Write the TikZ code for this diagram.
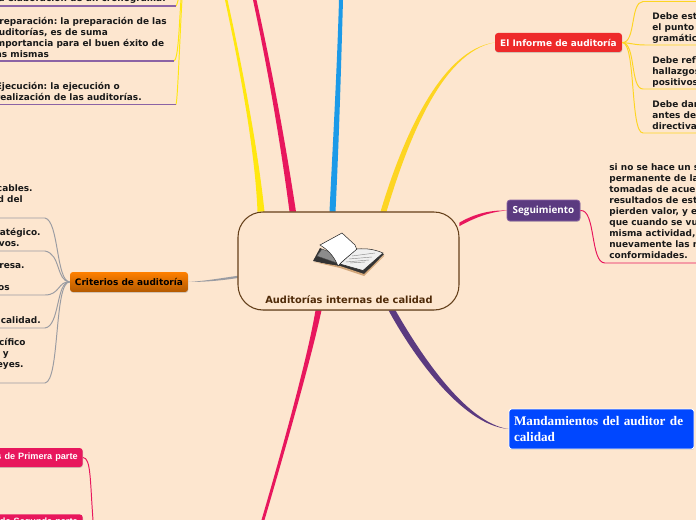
\documentclass[tikz,border=0pt]{standalone}
\usepackage{fontspec}
\setmainfont{DejaVu Sans}
\newfontfamily\tagfont{Open Sans}
\newfontfamily\pinkfont{Liberation Sans}
\newfontfamily\bluefont{Liberation Serif}
\usetikzlibrary{calc,shadows}
\definecolor{pagecream}{HTML}{FDE6CF}
\definecolor{rootedge}{HTML}{65401A}
\definecolor{roottext}{HTML}{4F2A08}
\definecolor{gold}{HTML}{FDD522}
\definecolor{sun}{HTML}{FFE70F}
\definecolor{crimson}{HTML}{E8175D}
\definecolor{skyblue}{HTML}{1B9AE8}
\definecolor{grape}{HTML}{5B3A80}
\definecolor{lilac}{HTML}{8B63A5}
\definecolor{slate}{HTML}{9A9CA2}
\definecolor{redtag}{HTML}{EE2A2A}
\definecolor{bluetag}{HTML}{0047FF}
\tikzset{
  softshadow/.style={drop shadow={shadow xshift=0.2pt,shadow yshift=-0.5pt,opacity=.35}},
  tagbox/.style={rounded corners=0.06cm,inner sep=0,softshadow,font=\bfseries\fontsize{5.1}{6.24}\selectfont},
  bodytext/.style={inner sep=0,align=left,font=\bfseries\fontsize{5.1}{6.24}\selectfont,text=black!90},
  gline/.style={draw=gold,line width=0.55pt},
  sline/.style={draw=sun,line width=0.55pt},
  pline/.style={draw=lilac,line width=0.6pt},
  cline/.style={draw=slate,line width=0.55pt},
  rline/.style={draw=crimson,line width=0.55pt}
}
\frenchspacing
\begin{document}
\begin{tikzpicture}[x=0.02cm,y=-0.02cm]
\path[use as bounding box,fill=pagecream] (0,0) rectangle (696,520);
\clip (0,0) rectangle (696,520);
\node[tagbox,fill=redtag,text=white,minimum width=2.54cm,minimum height=0.38cm] (informe) at (558.5,42.5) {El Informe de auditoría};
\node[tagbox,fill=grape,draw=lilac,line width=0.4pt,text=white,minimum width=1.46cm,minimum height=0.42cm,font=\tagfont\bfseries\fontsize{5.6}{7}\selectfont] (seguimiento) at (543.5,210.5) {Seguimiento};
\node[tagbox,top color=orange!100!yellow,bottom color=orange!70!black,minimum width=2.36cm,minimum height=0.4cm] (criterios) at (129,282) {Criterios de auditoría};
\node[tagbox,rounded corners=0.05cm,fill=bluetag,draw=white,line width=0.5pt,text=white,minimum width=3.7cm,minimum height=0.8cm,text width=3.5cm,align=left,font=\bluefont\bfseries\fontsize{7.5}{8.6}\selectfont,drop shadow={opacity=0}] (mandamientos) at (601.5,429) {Mandamientos del auditor de\\calidad};
\node[tagbox,anchor=east,fill=crimson,text=white,minimum height=0.38cm,text width=2.2cm,align=right,font=\pinkfont\bfseries\fontsize{5.2}{7}\selectfont] (primera) at (83,457.5) {s de Primera parte\hspace*{0.1cm}};
\node[tagbox,anchor=north east,fill=crimson,text=white,minimum height=0.3cm,text width=2.2cm,align=right,font=\pinkfont\bfseries\fontsize{5.2}{7}\selectfont] (segunda) at (83,514) {s de Segunda parte\hspace*{0.1cm}};
\node[fill=pagecream,inner sep=0,minimum width=4.42cm,minimum height=1.96cm] (root) at (348.5,261) {};
\fill[sun] ($(root.north)+(-91,0)$) .. controls (255,150) and (240,70) .. (225,0) -- (227.5,0) .. controls (243,70) and (258,150) .. ($(root.north)+(-84,0)$) -- cycle;
\fill[crimson] ($(root.north)+(-59,0)$) .. controls (280,140) and (268,70) .. (253,0) -- (256.5,0) .. controls (272,70) and (285,140) .. ($(root.north)+(-52.5,0)$) -- cycle;
\fill[skyblue] ($(root.north)+(-19,0)$) .. controls (333,140) and (337,70) .. (339,0) -- (343,0) .. controls (341,70) and (339,140) .. ($(root.north)+(-13,0)$) -- cycle;
\fill[gold] ($(root.north)+(32,0)$) .. controls (402,140) and (440,50) .. (informe.west) .. controls (442,52) and (408,140) .. ($(root.north)+(38,0)$) -- cycle;
\fill[crimson] ($(root.north east)+(0,11)$) .. controls (474,214) and (490,210) .. (seguimiento.west) .. controls (490,212) and (476,217) .. ($(root.north east)+(0,14.5)$) -- cycle;
\fill[slate] (criterios.east) .. controls (205,281) and (222,278) .. ($(root.west)+(0,14.8)$) -- ($(root.west)+(0,17)$) .. controls (222,280.5) and (205,282) .. (criterios.east) -- cycle;
\fill[crimson] ($(root.south)+(-33,0)$) .. controls (308,355) and (285,440) .. (261.5,520) -- (264.5,520) .. controls (288,440) and (312,355) .. ($(root.south)+(-27,0)$) -- cycle;
\fill[grape] ($(root.south)+(40,0)$) .. controls (410,350) and (460,425) .. (mandamientos.west) .. controls (465,423) and (418,350) .. ($(root.south)+(47,0)$) -- cycle;
\node[fill=pagecream,draw=rootedge,line width=0.6pt,rounded corners=0.5cm,inner sep=0,minimum width=4.42cm,minimum height=1.96cm,drop shadow={shadow xshift=0pt,shadow yshift=-0.4pt,opacity=.4}] (rootbox) at (348.5,261) {};
\node[inner sep=0,font=\bfseries\fontsize{5.6}{7}\selectfont,text=roottext] (roottitle) at (349,300) {Auditorías internas de calidad};
\fill[black!80] (313,261) -- (320,248) -- (341,258) -- (357,250) -- (384,254) -- (364,275) -- (340,267) -- cycle;
\fill[brown!70] (314,262) -- (340,268) -- (364,276) -- (384,256) -- (384,255) -- (364,274) -- (340,266) -- cycle;
\draw[fill=black!45,draw=black!70,line width=0.2pt] (317,256) -- (322,249) -- (345,258) -- (340,264) -- cycle;
\draw[fill=white,draw=black!85,line width=0.3pt] (320,245) -- (342,233) -- (355,245) -- (357,250) .. controls (350,256) and (343,260) .. (338,266) .. controls (334,256) and (328,250) .. (320,245) -- cycle;
\draw[fill=black!6,draw=black!85,line width=0.3pt] (357,249) .. controls (368,248) and (376,250) .. (383,253) -- (363,270.5) -- (340,264) .. controls (345,259) and (350,255) .. (357,249) -- cycle;
\draw[black!45,line width=0.25pt] (352,256) -- (375,253);
\draw[black!45,line width=0.25pt] (349,259) -- (372,257);
\draw[black!45,line width=0.25pt] (346,262) -- (369,260);
\draw[black!45,line width=0.25pt] (350,263) -- (365,262);
\coordinate (goldA) at (643,1.5);
\coordinate (goldB) at (645,45);
\coordinate (goldC) at (643,89);
\coordinate (goldD) at (643,133);
\coordinate (edgeA) at (696,1.5);
\coordinate (edgeB) at (696,45);
\coordinate (edgeC) at (696,89);
\coordinate (edgeD) at (696,133);
\draw[gline] (informe.east) .. controls (636,43) and (630,2) .. (goldA) -- (edgeA);
\draw[gline] (informe.east) .. controls (630,43) and (635,45) .. (goldB) -- (edgeB);
\draw[gline] (informe.east) .. controls (636,43) and (630,89) .. (goldC) -- (edgeC);
\draw[gline] (informe.east) .. controls (636,43) and (630,133) .. (goldD) -- (edgeD);
\node[bodytext,anchor=north west] (estar) at (652,12.6) {Debe est\\el punto\\gramátic};
\node[bodytext,anchor=north west] (reflejar) at (652,56.6) {Debe refl\\hallazgos\\positivos};
\node[bodytext,anchor=north west] (dar) at (652,100.6) {Debe dar\\antes de\\directiva};
\coordinate (segEnd) at (605,263);
\coordinate (segEdge) at (696,263);
\draw[rline] (seguimiento.east) .. controls (596,209) and (590,263) .. (segEnd) -- (segEdge);
\node[bodytext,anchor=north west] (segtext) at (609,163.6) {si no se hace un s\\permanente de la\\tomadas de acuer\\resultados de est\\pierden valor, y e\\que cuando se vu\\misma actividad,\\nuevamente las n\\conformidades.};
\coordinate (sunTop) at (184,-30);
\coordinate (cronoEnd) at (176,6);
\coordinate (prepEnd) at (174,61);
\coordinate (ejecEnd) at (176,104.5);
\coordinate (cronoEdge) at (0,6);
\coordinate (prepEdge) at (0,61);
\coordinate (ejecEdge) at (0,104.5);
\draw[sline] (sunTop) .. controls (180,-10) and (178,4) .. (cronoEnd);
\draw[sline] (sunTop) .. controls (179,0) and (180,58) .. (prepEnd);
\draw[sline] (sunTop) .. controls (181,0) and (178,100) .. (ejecEnd);
\draw[pline] (cronoEnd) -- (cronoEdge);
\draw[pline] (prepEnd) -- (prepEdge);
\draw[pline] (ejecEnd) -- (ejecEdge);
\node[bodytext,anchor=base east] (crono) at (166,1.5) {a elaboración de un cronograma.};
\node[bodytext,anchor=north east] (prep) at (167,16.6) {Preparación: la preparación de las\\auditorías, es de suma\\importancia para el buen éxito de\\las mismas};
\node[bodytext,anchor=north east] (ejec) at (142,81.6) {Ejecución: la ejecución o\\realización de las auditorías.};
\node[bodytext,anchor=base east] (cables) at (33,191.3) {cables.};
\node[bodytext,anchor=base east] (delA) at (23,202.3) {d del};
\node[bodytext,anchor=base east] (estra) at (41,235.3) {ratégico.};
\node[bodytext,anchor=base east] (vos) at (20,246.3) {vos.};
\node[bodytext,anchor=base east] (resa) at (25,268.3) {resa.};
\node[bodytext,anchor=base east] (osA) at (10,290.3) {os};
\node[bodytext,anchor=base east] (calidad) at (41,323.3) {calidad.};
\node[bodytext,anchor=base east] (cifico) at (26,345.3) {cífico};
\node[bodytext,anchor=base east] (yA) at (9,356.3) {, y};
\node[bodytext,anchor=base east] (leyes) at (24,367.3) {eyes.};
\coordinate (critA) at (45,218);
\coordinate (critB) at (45,251);
\coordinate (critC) at (45,295);
\coordinate (critD) at (45,328);
\coordinate (critE) at (45,383);
\coordinate (critAe) at (0,218);
\coordinate (critBe) at (0,251);
\coordinate (critCe) at (0,295);
\coordinate (critDe) at (0,328);
\coordinate (critEe) at (0,383);
\draw[cline] (criterios.west) .. controls (56,281) and (59,221) .. (critA) -- (critAe);
\draw[cline] (criterios.west) .. controls (56,281) and (61,254) .. (critB) -- (critBe);
\draw[cline] (criterios.west) .. controls (58,281) and (60,295) .. (critC) -- (critCe);
\draw[cline] (criterios.west) .. controls (56,281) and (60,326) .. (critD) -- (critDe);
\draw[cline] (criterios.west) .. controls (54,281) and (60,381) .. (critE) -- (critEe);
\coordinate (primeraDown) at (93,520);
\draw[rline] (primera.east) .. controls (91,458) and (90,480) .. (primeraDown);
\end{tikzpicture}
\end{document}
